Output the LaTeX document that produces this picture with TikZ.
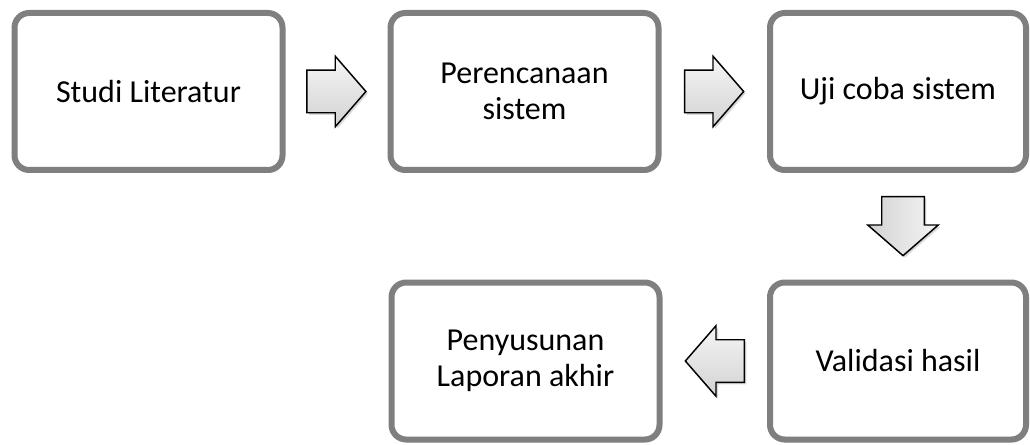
\documentclass[tikz,border=0pt]{standalone}
\usepackage{fontspec}
\setmainfont{Carlito}
\usetikzlibrary{shapes.arrows,shadows,calc}
\definecolor{boxgray}{HTML}{7F7F7F}
\tikzset{
  stepbox/.style={draw=boxgray, line width=4.5pt, fill=white, rounded corners=11pt,
    minimum width=201pt, minimum height=117.75pt, align=center,
    font=\fontsize{24}{27}\selectfont,
    drop shadow={shadow xshift=1.2pt, shadow yshift=-2.2pt, opacity=0.3}},
  blockarrow/.style={single arrow, draw=black, line width=1.1pt,
    top color=gray!8, bottom color=gray!35,
    minimum height=44.25pt, minimum width=52pt, inner xsep=0pt, inner ysep=15.4pt,
    single arrow head extend=10.5pt, single arrow tip angle=98,
    drop shadow={shadow xshift=1.5pt, shadow yshift=-1.5pt, opacity=0.3}}
}
\begin{document}
\begin{tikzpicture}[x=0.75pt, y=-0.75pt]
    % Frame
    \useasboundingbox (0,0) rectangle (1030,445);
    % Steps
    \node [stepbox] (studi) at (148.5,91.5) {Studi Literatur};
    \node [stepbox] (rencana) at (524.5,91.5) {Perencanaan\\sistem};
    \node [stepbox, minimum width=192pt] (uji) at (898,91.5) {Uji coba sistem};
    \node [stepbox, minimum width=192pt] (validasi) at (898,361) {Validasi hasil};
    \node [stepbox] (laporan) at (525.5,361) {Penyusunan\\Laporan akhir};
    % Arrows between steps
    \node [blockarrow, xshift=-7pt] (a1) at ($(studi.east)!0.5!(rencana.west)$) {};
    \node [blockarrow, xshift=-7pt] (a2) at ($(rencana.east)!0.5!(uji.west)$) {};
    \node [blockarrow, shape border rotate=270, inner xsep=15.4pt, inner ysep=0pt,
      left color=gray!35, right color=gray!8, yshift=7pt]
      (a3) at ($(uji.south)!0.5!(validasi.north)+(5,0)$) {};
    \node [blockarrow, shape border rotate=180, xshift=7pt] (a4) at ($(validasi.west)!0.5!(laporan.east)$) {};
\end{tikzpicture}
\end{document}
